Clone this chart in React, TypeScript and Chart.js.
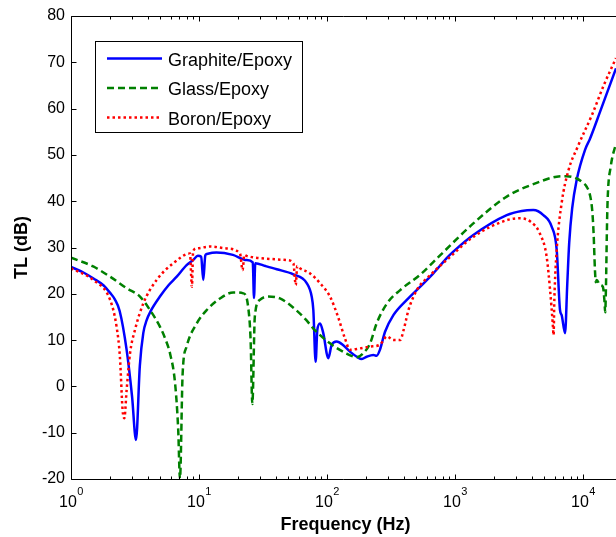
import React, { useEffect, useRef } from 'react';
import { Chart, registerables } from 'chart.js';

Chart.register(...registerables);

const FONT = '"Liberation Sans", Arial, Helvetica, sans-serif';

const seriesLabels = ['Graphite/Epoxy', 'Glass/Epoxy', 'Boron/Epoxy'];
const seriesColors = ['#0000FF', '#008000', '#FF0000'];

const graphiteFreq = [1, 1.25, 1.5, 1.8, 2.02, 2.2, 2.4, 2.72, 3.0, 3.22, 3.45, 3.67, 3.9, 4.2, 4.95, 5.8, 6.7, 8.0, 9.0, 9.8, 10.4, 10.8, 11.2, 11.5, 13.7, 18.4, 23.5, 26.3, 26.9, 27.5, 33, 40.5, 54.6, 69.4, 75.9, 78.2, 81.5, 84, 88.2, 93.5, 102.4, 108.8, 119, 134, 151, 171, 187, 204, 230, 244, 259, 284, 330, 420, 533, 677, 861, 970, 1390, 2535, 3320, 4090, 4900, 5690, 6230, 6610, 6810, 7240, 7530, 7800, 8230, 8920, 10370, 11340, 13580, 18100];
const graphiteTL = [25.8, 24.6, 23.3, 21.8, 20.2, 18.8, 16.3, 7.9, -2.2, -11.6, 4.5, 11.5, 14.3, 16.3, 19.4, 21.9, 23.7, 26.2, 27.3, 28.2, 28.0, 23.0, 28.3, 28.6, 28.9, 28.4, 27.3, 26.8, 19.1, 26.6, 26.0, 25.3, 24.2, 22.3, 19.4, 16.5, 5.3, 12.2, 13.6, 11.5, 6.1, 9.0, 9.7, 8.9, 7.5, 6.4, 5.9, 6.4, 6.8, 6.6, 7.9, 11.8, 15.4, 18.7, 21.5, 24.4, 27.7, 29.1, 32.7, 37.0, 37.9, 38.1, 37.0, 34.5, 29.5, 16.5, 15.4, 11.5, 22, 31, 38.5, 44.6, 51.1, 53.5, 59.3, 68.7];

const glassFreq = [1, 1.49, 2.02, 2.72, 3.46, 4.14, 4.95, 5.5, 5.94, 6.5, 6.88, 7.1, 7.45, 8.0, 9.6, 11.5, 14.6, 18.5, 22.2, 24.2, 25.3, 26.1, 27.3, 29.9, 34.7, 42.9, 54.6, 69, 78.2, 105.5, 142, 171, 191, 217, 244, 294, 373, 533, 764, 1390, 2535, 4590, 6230, 7460, 8920, 10000, 10700, 11400, 11800, 12100, 12400, 12600, 12800, 13500, 14300, 14700, 14900, 15130, 15350, 15570, 16470, 18100];
const glassTL = [27.8, 25.9, 23.7, 21.2, 19.4, 16.5, 12.9, 10.0, 7.1, 0.7, -9.4, -20, 2.8, 8.6, 13.6, 16.5, 19.0, 20.3, 20.1, 17.2, 10.0, -3.8, 15.1, 18.7, 19.4, 19.0, 17.0, 14.3, 12.5, 9.3, 7.1, 6.3, 7.1, 9.3, 13.6, 17.9, 20.8, 24.1, 28.3, 35.2, 41.0, 44.2, 45.3, 45.4, 44.9, 44.0, 43.1, 41.0, 38.0, 33.0, 25.0, 22.5, 23.0, 22.0, 21.5, 18.5, 16.0, 22.3, 33.0, 40.3, 47.5, 52.5];

const boronFreq = [1, 1.49, 2.02, 2.27, 2.41, 2.53, 2.61, 2.72, 2.89, 3.16, 3.67, 4.67, 6.3, 8.5, 8.8, 9.0, 9.6, 12.2, 16.4, 20.9, 21.9, 22.6, 23.5, 29.9, 48.4, 54.6, 57, 58.5, 61.5, 73.8, 88.2, 105.5, 122, 138, 151, 180, 217, 259, 294, 330, 373, 397, 433, 503, 644, 861, 1390, 2535, 3220, 3880, 4590, 5200, 5530, 5800, 5890, 5970, 6230, 6800, 7700, 9000, 11900, 14500, 18100];
const boronTL = [25.5, 23.0, 18.7, 12.9, 6.4, -5.1, -6.9, -0.8, 7.1, 12.2, 17.9, 23.0, 26.6, 28.7, 21.5, 29.2, 29.8, 30.2, 29.8, 28.7, 25.1, 28.4, 28.2, 27.7, 27.3, 26.6, 21.9, 26.0, 25.5, 24.4, 22.3, 19.4, 15.0, 10.4, 7.9, 8.2, 8.6, 9.0, 10.8, 10.0, 10.0, 12.2, 16.5, 20.8, 24.1, 27.3, 32.3, 35.9, 36.3, 35.6, 33.1, 28.0, 20.8, 13.6, 11.1, 18.7, 29.5, 39.5, 46.7, 51.5, 59.0, 65.0, 70.9];

const xMajorTicks = [1, 10, 100, 1000, 10000];
const xMinorTicks = [2, 3, 4, 5, 6, 7, 8, 9, 20, 30, 40, 50, 60, 70, 80, 90, 200, 300, 400, 500, 600, 700, 800, 900, 2000, 3000, 4000, 5000, 6000, 7000, 8000, 9000];
const yTicks = [-20, -10, 0, 10, 20, 30, 40, 50, 60, 70, 80];
const xMin = 1;
const xMax = 18100;
const yMin = -20;
const yMax = 80;
const xTitle = 'Frequency (Hz)';
const yTitle = 'TL (dB)';

const toPoints = (xs: number[], ys: number[]) => xs.map((x, i) => ({ x, y: ys[i] }));

const axesPlugin = {
  id: 'matlabAxes',
  afterDatasetsDraw(chart: any) {
    const { ctx, chartArea: a, scales } = chart;
    const x = scales.x;
    const y = scales.y;
    ctx.save();
    ctx.strokeStyle = '#000';
    ctx.lineWidth = 1;
    const L = Math.round(a.left) + 0.5;
    const T = Math.round(a.top) + 0.5;
    const B = Math.round(a.bottom) + 0.5;
    const R = chart.width;
    ctx.beginPath();
    ctx.moveTo(L, T); ctx.lineTo(L, B); ctx.lineTo(R, B);
    ctx.moveTo(L, T); ctx.lineTo(R, T);
    xMajorTicks.forEach((v) => {
      const px = Math.round(x.getPixelForValue(v)) + 0.5;
      ctx.moveTo(px, B); ctx.lineTo(px, B - 5);
      ctx.moveTo(px, T); ctx.lineTo(px, T + 5);
    });
    xMinorTicks.forEach((v) => {
      const px = Math.round(x.getPixelForValue(v)) + 0.5;
      ctx.moveTo(px, B); ctx.lineTo(px, B - 3);
      ctx.moveTo(px, T); ctx.lineTo(px, T + 3);
    });
    yTicks.forEach((v) => {
      const py = Math.round(y.getPixelForValue(v)) + 0.5;
      ctx.moveTo(L, py); ctx.lineTo(L + 5, py);
    });
    ctx.stroke();

    ctx.fillStyle = '#000';
    ctx.textBaseline = 'alphabetic';
    ctx.textAlign = 'left';
    xMajorTicks.forEach((v) => {
      const px = x.getPixelForValue(v);
      const exp = String(Math.round(Math.log10(v)));
      ctx.font = `16px ${FONT}`;
      const w1 = ctx.measureText('10').width;
      ctx.font = `11px ${FONT}`;
      const w2 = ctx.measureText(exp).width;
      const start = px - (w1 + w2) / 2;
      ctx.font = `16px ${FONT}`;
      ctx.fillText('10', start, 507);
      ctx.font = `11px ${FONT}`;
      ctx.fillText(exp, start + w1 + 0.5, 494.5);
    });

    ctx.font = `bold 18px ${FONT}`;
    ctx.textAlign = 'center';
    ctx.fillText(xTitle, (a.left + a.right) / 2 + 2, 530);
    ctx.save();
    ctx.translate(26.5, (a.top + a.bottom) / 2);
    ctx.rotate(-Math.PI / 2);
    ctx.fillText(yTitle, 0, 0);
    ctx.restore();

    ctx.fillStyle = '#fff';
    ctx.fillRect(95.5, 41.5, 207, 91);
    ctx.strokeStyle = '#000';
    ctx.lineWidth = 1;
    ctx.strokeRect(95.5, 41.5, 207, 91);
    chart.data.datasets.forEach((ds: any, i: number) => {
      const ly = 58.5 + i * 29.5;
      ctx.save();
      ctx.strokeStyle = ds.borderColor;
      ctx.lineWidth = ds.borderWidth;
      ctx.setLineDash(ds.borderDash || []);
      ctx.beginPath();
      ctx.moveTo(107, ly);
      ctx.lineTo(162, ly);
      ctx.stroke();
      ctx.restore();
      ctx.fillStyle = '#000';
      ctx.font = `18px ${FONT}`;
      ctx.textAlign = 'left';
      ctx.fillText(ds.label, 168, ly + 7);
    });
    ctx.restore();
  },
};

export default function App() {
  const canvasRef = useRef<HTMLCanvasElement | null>(null);

  useEffect(() => {
    if (!canvasRef.current) return;
    const common = { pointRadius: 0, borderWidth: 2.5, cubicInterpolationMode: 'monotone' };
    const chart = new Chart(canvasRef.current, {
      type: 'line',
      data: {
        datasets: [
          {
            ...common,
            label: seriesLabels[0],
            data: toPoints(graphiteFreq, graphiteTL),
            borderColor: seriesColors[0],
            order: 2,
          },
          {
            ...common,
            label: seriesLabels[1],
            data: toPoints(glassFreq, glassTL),
            borderColor: seriesColors[1],
            borderDash: [7, 4],
            order: 1,
          },
          {
            ...common,
            label: seriesLabels[2],
            data: toPoints(boronFreq, boronTL),
            borderColor: seriesColors[2],
            borderDash: [2.5, 3],
            order: 0,
          },
        ] as any,
      },
      options: {
        responsive: false,
        devicePixelRatio: 1,
        animation: false,
        layout: { padding: { top: 16, right: 0, left: 0, bottom: 0 } },
        plugins: { legend: { display: false }, tooltip: { enabled: false } },
        scales: {
          x: {
            type: 'logarithmic',
            min: xMin,
            max: xMax,
            grid: { display: false, drawTicks: false },
            border: { display: false },
            ticks: { display: false },
            afterFit: (s: any) => { s.height = 58; },
          },
          y: {
            type: 'linear',
            min: yMin,
            max: yMax,
            grid: { display: false, drawTicks: false },
            border: { display: false },
            ticks: {
              stepSize: 10,
              padding: 6,
              color: '#000',
              font: { family: FONT, size: 16 },
            },
            afterFit: (s: any) => { s.width = 71; },
          },
        },
      } as any,
      plugins: [axesPlugin],
    });
    return () => chart.destroy();
  }, []);

  return (
    <div style={{ position: 'absolute', left: 0, top: 0, width: 616, height: 537, background: '#fff' }}>
      <canvas ref={canvasRef} width={616} height={537} style={{ display: 'block' }} />
    </div>
  );
}
